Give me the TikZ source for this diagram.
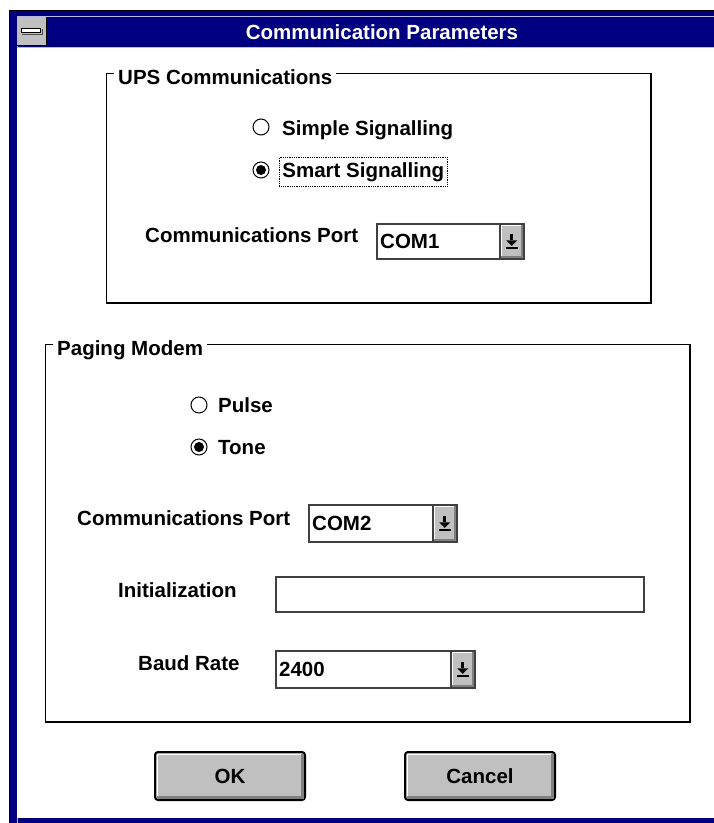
\documentclass[tikz,border=0pt]{standalone}
\usepackage{fontspec}
\setmainfont{Liberation Sans}
\usetikzlibrary{calc}
\definecolor{winblue}{HTML}{000080}
\definecolor{wingray}{HTML}{C0C0C0}
\definecolor{winshade}{HTML}{808080}
\definecolor{winlight}{HTML}{B8B8E0}
\begin{document}
\begin{tikzpicture}[x=1pt,y=-1pt]
\tikzstyle{lbl}=[font=\bfseries\fontsize{20.5}{24}\selectfont,inner sep=0pt,anchor=base west]
\tikzstyle{frame}=[draw=black,line width=1.3pt]
\tikzstyle{grouplbl}=[lbl,fill=white,inner xsep=4pt]
\tikzstyle{radio}=[circle,draw=black,line width=1pt,fill=white,minimum size=16pt,inner sep=0pt]
\tikzstyle{field}=[draw=black!75,line width=1.5pt,fill=white,inner sep=0pt,anchor=north west]
\tikzstyle{combobtn}=[draw=black!75,line width=1.5pt,fill=wingray,inner sep=0pt,minimum width=24pt,anchor=north east]
\tikzstyle{btn}=[lbl,anchor=center,draw=black,line width=2pt,fill=wingray,rounded corners=3pt,minimum width=150pt,minimum height=48pt]
\useasboundingbox (0,0) rectangle (714,823);
\fill[white] (0,0) rectangle (714,823);
% window frame and title bar
\fill[winblue] (9,10) rectangle (714,823);
\draw[black,line width=1pt] (9,10.5) -- (714,10.5);
\draw[black,line width=1pt] (9.5,10) -- (9.5,823);
\draw[winlight,line width=1pt] (17.5,823) -- (17.5,16.5) -- (714,16.5);
\fill[white] (17,47) rectangle (714,818);
\draw[black,line width=1pt] (17,45.5) -- (714,45.5);
\draw[wingray,line width=1pt] (17,47) -- (714,47);
\fill[wingray] (18,17) rectangle (46,45);
\draw[black,line width=1pt] (46.5,17) -- (46.5,45);
\node[draw=black,line width=1pt,fill=white,minimum width=19pt,minimum height=4pt,inner sep=0pt] (sysmenu) at (31,30.5) {};
\draw[black!70,line width=1pt] ($(sysmenu.south west)+(1,1)$) -- ($(sysmenu.south east)+(1,1)$) -- ($(sysmenu.north east)+(1,1)$);
\node[lbl,anchor=base,text=white] (title) at (382,39) {Communication Parameters};
% UPS Communications
\draw[frame] (106.5,73.5) rectangle (651,303);
\node[grouplbl] (upslbl) at (114,84) {UPS Communications};
\node[radio] (simple) at (261,127) {};
\node[lbl] (simpletxt) at (282,135) {Simple Signalling};
\node[radio] (smart) at (261,170) {};
\fill[black] (smart) circle (5);
\node[lbl,draw=black,densely dotted,line width=0.8pt,inner xsep=3pt,inner ysep=5pt] (smarttxt) at (279,177) {Smart Signalling};
\node[lbl] (portAlbl) at (145,242) {Communications Port};
% Paging Modem
\draw[frame] (45.5,344.5) rectangle (690,722);
\node[grouplbl] (paginglbl) at (53,355) {Paging Modem};
\node[radio] (pulse) at (199,405) {};
\node[lbl] (pulsetxt) at (218,412) {Pulse};
\node[radio] (tone) at (199,447) {};
\fill[black] (tone) circle (5);
\node[lbl] (tonetxt) at (218,454) {Tone};
\node[lbl] (portBlbl) at (77,525) {Communications Port};
\node[lbl] (initlbl) at (118,597) {Initialization};
\node[field,minimum width=368pt,minimum height=35pt] (init) at (275,576) {};
\node[lbl] (baudlbl) at (138,670) {Baud Rate};
% drop-down boxes
\foreach \xa/\ya/\xb/\yb/\val/\nm in {376/223/523/258/COM1/portA,308/504/456/541/COM2/portB,275/650/474/687/2400/baud}{
  \node[field,minimum width={\xb-\xa},minimum height={\yb-\ya}] (\nm) at (\xa,\ya) {};
  \node[lbl] (\nm-txt) at ($(\nm.west)+(4,7)$) {\val};
  \node[combobtn,minimum height={\yb-\ya}] (\nm-btn) at (\nm.north east) {};
  \draw[white,line width=1.5pt] ($(\nm-btn.south west)+(2.5,-2.5)$) -- ($(\nm-btn.north west)+(2.5,2.5)$) -- ($(\nm-btn.north east)+(-2.5,2.5)$);
  \draw[winshade,line width=1.5pt] ($(\nm-btn.south west)+(2,-2.5)$) -- ($(\nm-btn.south east)+(-2.5,-2.5)$) -- ($(\nm-btn.north east)+(-2.5,2)$);
  \fill[black] ($(\nm-btn.center)+(-1.5,-7)$) rectangle ($(\nm-btn.center)+(1.5,-1)$);
  \fill[black] ($(\nm-btn.center)+(-5.5,-1)$) -- ($(\nm-btn.center)+(5.5,-1)$) -- ($(\nm-btn.center)+(0,4.5)$) -- cycle;
  \fill[black] ($(\nm-btn.center)+(-6,6)$) rectangle ($(\nm-btn.center)+(6,8)$);
}
% push buttons
\foreach \cx/\txt/\nm in {230/OK/ok,480/Cancel/cancel}{
  \node[btn] (\nm) at (\cx,776) {\txt};
  \draw[white,line width=1.5pt] ($(\nm.south west)+(3.5,-4)$) -- ($(\nm.north west)+(3.5,3.5)$) -- ($(\nm.north east)+(-4,3.5)$);
  \draw[winshade,line width=2.5pt] ($(\nm.south west)+(3,-3.5)$) -- ($(\nm.south east)+(-3.5,-3.5)$) -- ($(\nm.north east)+(-3.5,3)$);
}
\end{tikzpicture}
\end{document}
